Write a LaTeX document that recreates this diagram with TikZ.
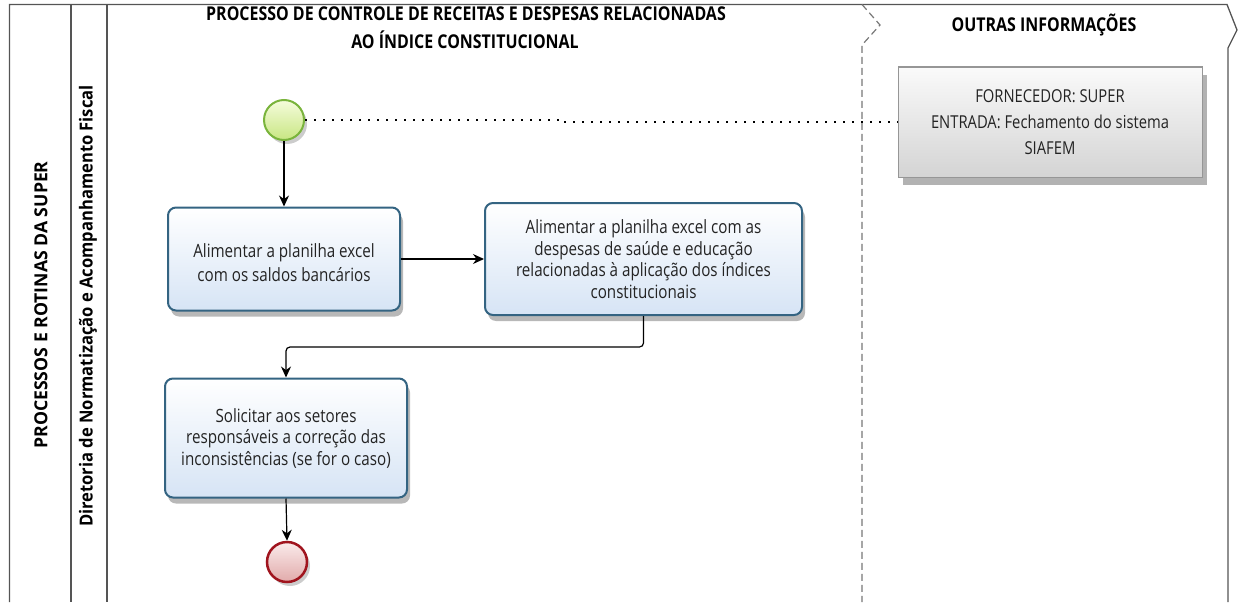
\documentclass[tikz,border=0pt]{standalone}
\usepackage{fontspec}
\setmainfont{Open Sans}[FakeStretch=0.83]
\newfontfamily\vertfontA{Open Sans}[FakeStretch=0.98]
\newfontfamily\vertfontB{Open Sans}[FakeStretch=0.92]
\newfontfamily\titlefont{Open Sans}[FakeStretch=0.84]
\usetikzlibrary{arrows.meta,shadows}
\definecolor{laneline}{RGB}{85,85,85}
\definecolor{taskborder}{RGB}{52,100,130}
\definecolor{taskbot}{RGB}{214,228,245}
\definecolor{startborder}{RGB}{122,180,60}
\definecolor{starttop}{RGB}{245,252,220}
\definecolor{startbot}{RGB}{200,230,130}
\definecolor{endborder}{RGB}{160,20,30}
\definecolor{endtop}{RGB}{250,235,235}
\definecolor{endbot}{RGB}{225,170,170}
\definecolor{notetop}{RGB}{250,250,250}
\definecolor{notebot}{RGB}{212,212,212}
\definecolor{noteborder}{RGB}{150,150,150}
\definecolor{txt}{RGB}{35,35,35}
\tikzset{
  lane/.style={draw=laneline, line width=1.3pt},
  sep/.style={draw=laneline!80, line width=1.2pt, dash pattern=on 7pt off 4pt},
  title/.style={font=\titlefont\fontsize{19}{22}\selectfont\bfseries, text=black, inner sep=0pt},
  lanelabelA/.style={font=\vertfontA\fontsize{18}{20}\selectfont\bfseries, text=black, rotate=90, inner sep=0pt},
  lanelabelB/.style={font=\vertfontB\fontsize{18}{20}\selectfont\bfseries, text=black, rotate=90, inner sep=0pt},
  taskbox/.style={draw=taskborder, line width=2pt, rounded corners=8pt,
    top color=white, bottom color=taskbot, align=center, text=txt,
    font=\fontsize{18.3}{21.5}\selectfont,
    drop shadow={shadow xshift=3pt, shadow yshift=-6pt, opacity=0.28, fill=black}},
  notebox/.style={draw=noteborder, line width=1pt,
    top color=notetop, bottom color=notebot, align=center, text=txt,
    font=\fontsize{17.8}{26}\selectfont,
    drop shadow={shadow xshift=5pt, shadow yshift=-8pt, opacity=0.3, fill=black}},
  startev/.style={circle, draw=startborder, line width=2pt, minimum size=40pt, inner sep=0pt,
    top color=starttop, bottom color=startbot,
    drop shadow={shadow xshift=3pt, shadow yshift=-4pt, opacity=0.2, fill=black}},
  endev/.style={circle, draw=endborder, line width=2.5pt, minimum size=40pt, inner sep=0pt,
    top color=endtop, bottom color=endbot,
    drop shadow={shadow xshift=3pt, shadow yshift=-4pt, opacity=0.2, fill=black}},
  flow/.style={draw=black, line width=1.2pt, -{Stealth[length=11pt,width=10pt]}},
  assoc/.style={draw=black, line width=1.6pt, dash pattern=on 1.6pt off 7.4pt}
}
\begin{document}
\begin{tikzpicture}[x=1pt,y=-1pt]
\useasboundingbox (0,0) rectangle (1244,602);
% pool frame
\draw[lane] (9.5,602) -- (9.5,4.5) -- (1227,4.5) -- (1237,30) -- (1228,48) -- (1228,602);
\draw[lane] (71,4.5) -- (71,602);
\draw[lane] (107,4.5) -- (107,602);
\draw[sep] (862,4.5) -- (880,25) -- (862,45) -- (862,602);
% titles
\node[title] (t1) at (466,14) {PROCESSO DE CONTROLE DE RECEITAS E DESPESAS RELACIONADAS};
\node[title] (t2) at (465,39.5) {AO ÍNDICE CONSTITUCIONAL};
\node[title] (t3) at (1044,25) {OUTRAS INFORMAÇÕES};
\node[lanelabelA] (l1) at (41,305) {PROCESSOS E ROTINAS DA SUPER};
\node[lanelabelB] (l2) at (88,306) {Diretoria de Normatização e Acompanhamento Fiscal};
% elements
\node[notebox, minimum width=304pt, minimum height=110pt] (note) at (1050,122)
  {FORNECEDOR: SUPER\\ENTRADA: Fechamento do sistema\\SIAFEM};
\node[startev] (start) at (284,120) {};
\node[taskbox, minimum width=232pt, minimum height=103pt, font=\fontsize{18.3}{24}\selectfont] (t1box) at (284,259)
  {\rule{0pt}{22pt}Alimentar a planilha excel\\com os saldos bancários};
\node[taskbox, minimum width=317pt, minimum height=112pt] (t2box) at (643.5,259)
  {Alimentar a planilha excel com as\\despesas de saúde e educação\\relacionadas à aplicação dos índices\\constitucionais};
\node[taskbox, minimum width=242pt, minimum height=119pt] (t3box) at (286,438)
  {Solicitar aos setores\\responsáveis a correção das\\inconsistências (se for o caso)};
\node[endev] (end) at (287,562) {};
% connectors
\draw[assoc] (start.east) -- ++(255,0) |- (note.west);
\draw[flow] (start.south) -- (t1box.north);
\draw[flow] (t1box.east) -- (t2box.west);
\draw[flow, rounded corners=4pt] (t2box.south) -- ++(0,31) -| (t3box.north);
\draw[flow] (t3box.south) -- (end.north);
\end{tikzpicture}
\end{document}
